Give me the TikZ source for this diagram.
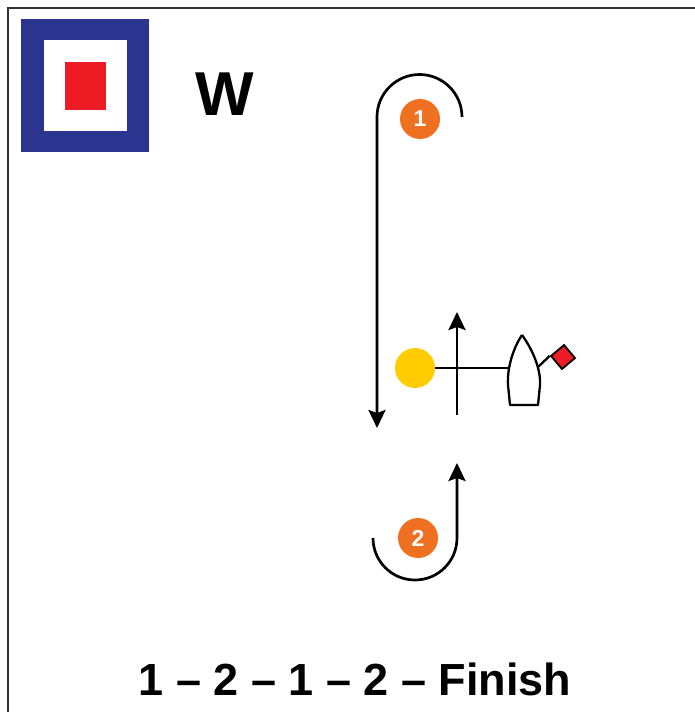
\documentclass[tikz,border=0pt]{standalone}
\usepackage{fontspec}
\setmainfont{Liberation Sans}
\usetikzlibrary{arrows.meta}
\definecolor{flagblue}{HTML}{2B3590}
\definecolor{flagred}{HTML}{ED1C24}
\definecolor{markyellow}{HTML}{FFCC00}
\definecolor{numorange}{HTML}{F07022}

\begin{document}
\begin{tikzpicture}[x=1pt,y=-1pt]
    \tikzstyle{every node}=[inner sep=0pt]
    \tikzstyle{num}=[
        circle,
        fill=numorange,
        minimum size=40pt,
        text=white,
        font=\fontsize{23}{23}\selectfont\bfseries]
    \tikzstyle{course}=[line width=2.7pt, -{Stealth[length=18pt,width=17pt,inset=3pt]}]
    \tikzstyle{thin}=[line width=2.3pt]

    \useasboundingbox (0,0) rectangle (695,712);
    \clip (0,0) rectangle (695,712);
    \draw[line width=2.7pt, black!80] (8,8) rectangle (720,740);

    % flag W
    \fill[flagblue] (21,19) rectangle (149,152);
    \fill[white] (44,40) rectangle (127,131);
    \fill[flagred] (65,62) rectangle (106,110);
    \node[anchor=base, font=\fontsize{62}{62}\selectfont\bfseries] (w) at (225,115) {W};

    % marks and course
    \coordinate (top1) at (462,117);
    \coordinate (down1) at (377,428);
    \coordinate (left2) at (373,538);
    \coordinate (up2) at (457,463);
    \node[num] (n1) at (420,119) {1};
    \node[num] (n2) at (418,538) {2};
    \draw[course] (top1) arc[start angle=0, end angle=180, radius=42.5pt] -- (down1);
    \draw[course] (left2) arc[start angle=180, end angle=360, radius=42pt] -- (up2);

    % start line
    \node[circle, fill=markyellow, minimum size=40pt] (mark) at (415,368) {};
    \coordinate (hull) at (508,368);
    \coordinate (s0) at (457,415);
    \coordinate (s1) at (457,312);
    \draw[thin] (mark) -- (hull);
    \draw[course] (s0) -- (s1);

    % boat
    \draw[thin, fill=white, line join=round] (522,335) .. controls (512,350) and (507,370) .. (508,385)
        -- (510,405) -- (538,405) -- (540,385) .. controls (541,370) and (533,350) .. (522,335);
    \coordinate (pole) at (538,367);
    \node[draw, line width=1.8pt, fill=flagred, minimum size=17pt, rotate=40] (rc) at (563,357) {};
    \draw[thin] (pole) -- (rc.north west);

    \node[anchor=base, font=\fontsize{45}{45}\selectfont\bfseries] (seq) at (355,695) {1 – 2 – 1 – 2 – Finish};
\end{tikzpicture}
\end{document}
